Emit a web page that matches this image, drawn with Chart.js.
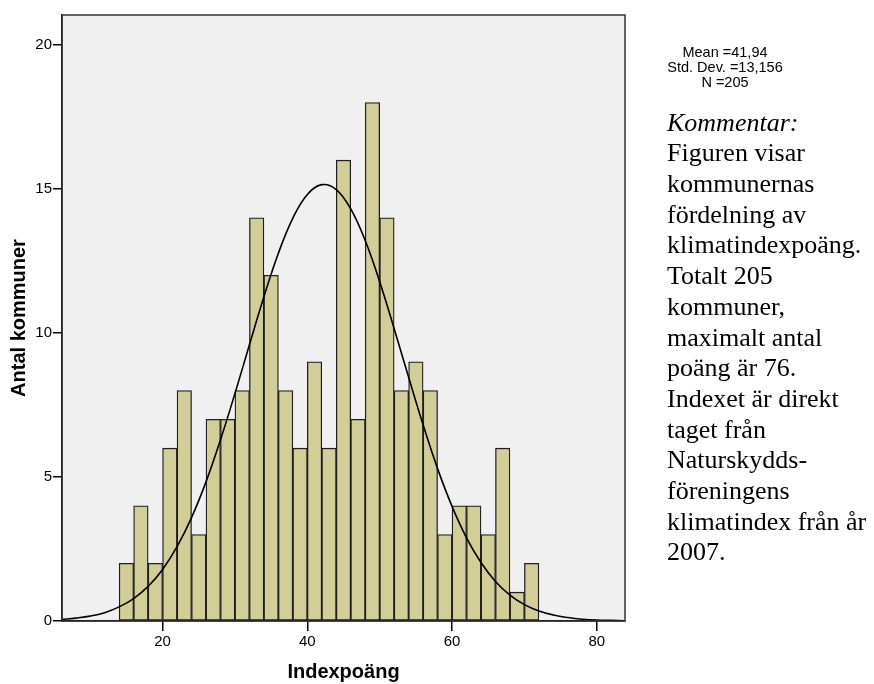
<!DOCTYPE html>
<html>
<head>
<meta charset="utf-8">
<script src="https://cdn.jsdelivr.net/npm/chart.js@4.4.1/dist/chart.umd.min.js"></script>
<style>
  body { margin: 0; background: #fff; }
  #wrap { position: relative; width: 874px; height: 684px; }
  #stats {
    position: absolute; left: 625px; top: 45px; width: 200px;
    text-align: center; white-space: nowrap; color: #000;
    font: 14.5px 'Liberation Sans', Arial, sans-serif; line-height: 15px;
  }
  #note {
    position: absolute; left: 667px; top: 107.6px; white-space: nowrap; color: #000;
    font: 26px 'Liberation Serif', 'Times New Roman', serif; line-height: 30.7px;
  }
</style>
</head>
<body>
<div id="wrap">
  <canvas id="histChart" width="874" height="684"></canvas>
  <div id="stats">Mean =41,94<br>Std. Dev. =13,156<br>N =205</div>
  <div id="note"><i>Kommentar:</i><br>Figuren visar<br>kommunernas<br>fördelning av<br>klimatindexpoäng.<br>Totalt 205<br>kommuner,<br>maximalt antal<br>poäng är 76.<br>Indexet är direkt<br>taget från<br>Naturskydds-<br>föreningens<br>klimatindex från år<br>2007.</div>
</div>
<script>
// histogram bins (width 2), centre of each bin
const binCenters = [15, 17, 19, 21, 23, 25, 27, 29, 31, 33, 35, 37, 39, 41, 43,
                    45, 47, 49, 51, 53, 55, 57, 59, 61, 63, 65, 67, 69, 71];
const counts = [2, 4, 2, 6, 8, 3, 7, 7, 8, 14, 12, 8, 6, 9, 6,
                16, 7, 18, 14, 8, 9, 8, 3, 4, 4, 3, 6, 1, 2];

// normal curve
const curveX = [6, 8, 10, 12, 14, 16, 18, 20, 22, 24, 26, 28, 30, 32, 34, 36, 38, 40, 42, 44,
                46, 48, 50, 52, 54, 56, 58, 60, 62, 64, 66, 68, 70, 72, 74, 76, 78, 80, 82, 84];
const curveY = [0.05, 0.10, 0.17, 0.29, 0.49, 0.78, 1.20, 1.79, 2.58, 3.59, 4.83, 6.29, 7.90, 9.59,
                11.26, 12.77, 13.99, 14.81, 15.15, 14.98, 14.31, 13.21, 11.78, 10.15, 8.46, 6.81,
                5.29, 3.98, 2.89, 2.03, 1.37, 0.90, 0.57, 0.35, 0.21, 0.12, 0.06, 0.03, 0.02, 0.01];

const xTicks = [20, 40, 60, 80];
const yTicks = [0, 5, 10, 15, 20];

const tickFont = { family: "'Liberation Sans', Arial, sans-serif", size: 15 };
const titleFont = { family: "'Liberation Sans', Arial, sans-serif", size: 20, weight: 'bold' };

// grey plot area and the frame round it
const plotFrame = {
  id: 'plotFrame',
  beforeDraw(chart) {
    const { ctx, chartArea: a } = chart;
    ctx.save();
    ctx.fillStyle = '#f0f0f0';
    ctx.fillRect(a.left, a.top, a.right - a.left, a.bottom - a.top);
    ctx.restore();
  },
  afterDraw(chart) {
    const { ctx, chartArea: a } = chart;
    ctx.save();
    ctx.strokeStyle = '#333';
    ctx.lineWidth = 1.5;
    ctx.strokeRect(a.left, a.top, a.right - a.left, a.bottom - a.top);
    ctx.restore();
  }
};

const ctx = document.getElementById('histChart').getContext('2d');
new Chart(ctx, {
  type: 'bar',
  data: {
    datasets: [
      {
        type: 'line',
        data: curveX.map((x, i) => ({ x: x, y: curveY[i] })),
        borderColor: '#000',
        borderWidth: 1.6,
        pointRadius: 0,
        tension: 0.4,
        fill: false,
        order: 0
      },
      {
        type: 'bar',
        data: binCenters.map((x, i) => ({ x: x, y: counts[i] })),
        backgroundColor: '#d3ce98',
        borderColor: '#1e1e1e',
        borderWidth: 1.3,
        borderSkipped: false,
        barPercentage: 1,
        categoryPercentage: 1,
        order: 1
      }
    ]
  },
  options: {
    responsive: false,
    animation: false,
    layout: { padding: { left: 0, top: 15, right: 249, bottom: 0 } },
    plugins: {
      legend: { display: false },
      tooltip: { enabled: false }
    },
    scales: {
      x: {
        type: 'linear',
        min: 6.1,
        max: 83.9,
        offset: false,
        afterBuildTicks: (scale) => { scale.ticks = xTicks.map(v => ({ value: v })); },
        afterFit: (scale) => { scale.height = 63; },
        ticks: { font: tickFont, color: '#000', padding: 2, maxRotation: 0 },
        grid: { offset: false, drawOnChartArea: false, tickLength: 10, color: '#000', lineWidth: 1.5 },
        border: { display: true, color: '#000', width: 1.5 },
        title: { display: true, text: 'Indexpoäng', font: titleFont, color: '#000', padding: { top: 0, bottom: 0 } }
      },
      y: {
        min: 0,
        max: 21.04,
        afterBuildTicks: (scale) => { scale.ticks = yTicks.map(v => ({ value: v })); },
        afterFit: (scale) => { scale.width = 62; },
        ticks: { font: tickFont, color: '#000', padding: 1 },
        grid: { drawOnChartArea: false, tickLength: 9, color: '#000', lineWidth: 1.5 },
        border: { display: true, color: '#000', width: 1.5 },
        title: { display: true, text: 'Antal kommuner', font: titleFont, color: '#000', padding: { top: 7.5, bottom: 0 } }
      }
    }
  },
  plugins: [plotFrame]
});
</script>
</body>
</html>
